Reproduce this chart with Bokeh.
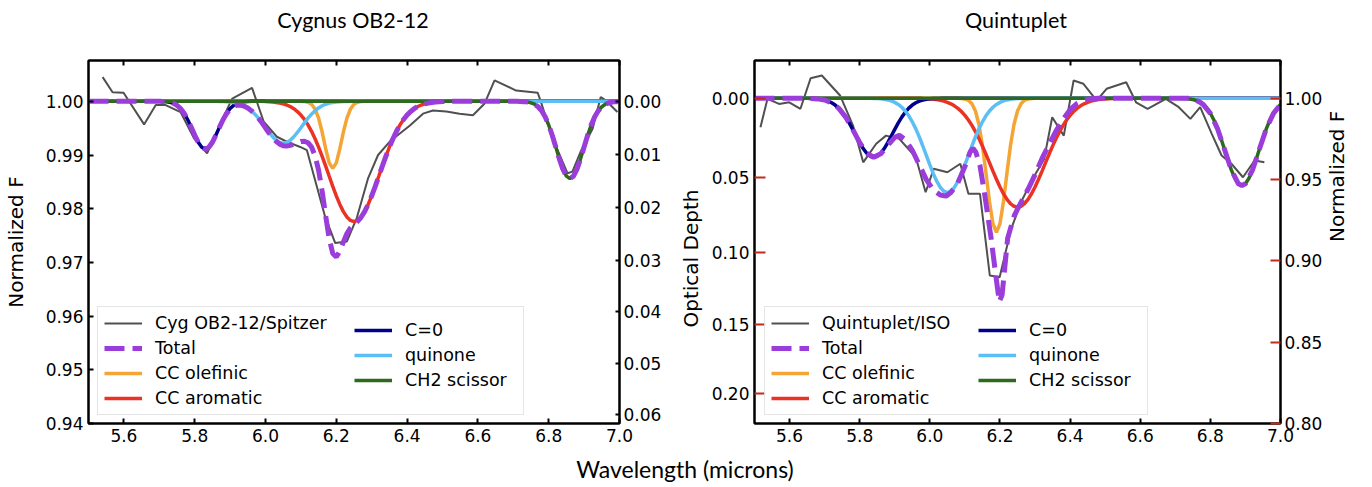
import math
import numpy as np
from bokeh.plotting import figure
from bokeh.models import (Range1d, LinearAxis, FixedTicker, Legend, LegendItem, Div, Title,
                          NumeralTickFormatter, CustomJSTickFormatter)
from bokeh.layouts import row, column
from bokeh.embed import file_html
from bokeh.resources import INLINE

# ---------------- data ----------------
x_ticks = [5.6, 5.8, 6.0, 6.2, 6.4, 6.6, 6.8, 7.0]
cyg_f_ticks = [0.94, 0.95, 0.96, 0.97, 0.98, 0.99, 1.00]
cyg_tau_ticks = [0.00, 0.01, 0.02, 0.03, 0.04, 0.05, 0.06]
qu_f_ticks = [0.80, 0.85, 0.90, 0.95, 1.00]
qu_tau_ticks = [0.00, 0.05, 0.10, 0.15, 0.20]

# model wavelength grid (microns)
model_wl_start = 5.50
model_wl_step = 0.01
model_n = 151

# Cygnus OB2-12 / Spitzer observed spectrum
cyg_obs_wl = [5.540, 5.568, 5.599, 5.657, 5.690, 5.718, 5.760, 5.798, 5.835, 5.892,
              5.906, 5.962, 5.995, 6.032, 6.060, 6.098, 6.117, 6.168, 6.197, 6.230,
              6.258, 6.290, 6.318, 6.351, 6.408, 6.445, 6.473, 6.511, 6.548, 6.586,
              6.619, 6.647, 6.708, 6.769, 6.778, 6.811, 6.853, 6.867, 6.890, 6.924,
              6.947, 6.961, 6.994]
cyg_obs_f = [1.0045, 1.0017, 1.0016, 0.9957, 0.9993, 0.9993, 0.9980, 0.9931, 0.9903, 0.9986,
             1.0005, 1.0025, 0.9962, 0.9934, 0.9925, 0.9915, 0.9909, 0.9786, 0.9736, 0.9739,
             0.9783, 0.9857, 0.9900, 0.9925, 0.9955, 0.9977, 0.9983, 0.9981, 0.9977, 0.9974,
             0.9996, 1.0039, 1.0020, 1.0016, 0.9999, 0.9931, 0.9866, 0.9869, 0.9906, 0.9949,
             1.0008, 1.0002, 0.9980]

# Cygnus components: absorption depth (1 - F) on the model grid, from a start wavelength
cyg_c0_start = 5.71
cyg_c0 = [0.00003, 0.00008, 0.00019, 0.00039, 0.00075, 0.00134, 0.00222, 0.00339, 0.00480,
          0.00629, 0.00763, 0.00856, 0.00890, 0.00856, 0.00763, 0.00629, 0.00480, 0.00339,
          0.00222, 0.00134, 0.00075, 0.00039, 0.00019, 0.00008, 0.00003]
cyg_quinone_start = 5.87
cyg_quinone = [0.00002, 0.00004, 0.00007, 0.00012, 0.00021, 0.00034, 0.00054, 0.00083, 0.00123,
               0.00174, 0.00239, 0.00315, 0.00401, 0.00491, 0.00580, 0.00660, 0.00724, 0.00766,
               0.00780, 0.00766, 0.00724, 0.00660, 0.00580, 0.00491, 0.00401, 0.00315, 0.00239,
               0.00174, 0.00123, 0.00083, 0.00054, 0.00034, 0.00021, 0.00012, 0.00007, 0.00004,
               0.00002]
cyg_olefinic_start = 6.10
cyg_olefinic = [0.00001, 0.00005, 0.00018, 0.00055, 0.00143, 0.00312, 0.00572, 0.00883, 0.01146,
                0.01250, 0.01146, 0.00883, 0.00572, 0.00312, 0.00143, 0.00055, 0.00018, 0.00005,
                0.00001]
cyg_aromatic_start = 6.00
cyg_aromatic = [0.00005, 0.00009, 0.00014, 0.00021, 0.00032, 0.00047, 0.00069, 0.00098, 0.00138,
                0.00190, 0.00256, 0.00338, 0.00439, 0.00559, 0.00697, 0.00854, 0.01025, 0.01208,
                0.01396, 0.01583, 0.01760, 0.01920, 0.02054, 0.02155, 0.02218, 0.02240, 0.02218,
                0.02155, 0.02054, 0.01920, 0.01760, 0.01583, 0.01396, 0.01208, 0.01025, 0.00854,
                0.00697, 0.00559, 0.00439, 0.00338, 0.00256, 0.00190, 0.00138, 0.00098, 0.00069,
                0.00047, 0.00032, 0.00021, 0.00014, 0.00009, 0.00005]
cyg_ch2_start = 6.72
cyg_ch2 = [0.00002, 0.00006, 0.00013, 0.00027, 0.00054, 0.00101, 0.00176, 0.00288, 0.00441,
           0.00633, 0.00851, 0.01071, 0.01263, 0.01393, 0.01440, 0.01393, 0.01263, 0.01071,
           0.00851, 0.00633, 0.00441, 0.00288, 0.00176, 0.00101, 0.00054, 0.00027, 0.00013,
           0.00006, 0.00002]

# Quintuplet / ISO observed spectrum
qu_obs_wl = [5.517, 5.537, 5.570, 5.599, 5.631, 5.660, 5.692, 5.744, 5.781, 5.810,
             5.847, 5.875, 5.913, 5.960, 5.988, 6.011, 6.050, 6.087, 6.110, 6.143,
             6.171, 6.199, 6.232, 6.260, 6.293, 6.326, 6.349, 6.382, 6.410, 6.438,
             6.476, 6.504, 6.560, 6.588, 6.621, 6.673, 6.710, 6.743, 6.771, 6.804,
             6.832, 6.860, 6.893, 6.926, 6.954]
qu_obs_f = [0.9822, 0.9996, 0.9965, 0.9975, 0.9935, 1.0123, 1.0140, 1.0017, 0.9832, 0.9606,
            0.9720, 0.9770, 0.9750, 0.9637, 0.9422, 0.9566, 0.9545, 0.9597, 0.9412, 0.9412,
            0.8910, 0.8899, 0.9197, 0.9360, 0.9504, 0.9627, 0.9883, 0.9770, 1.0109, 1.0089,
            0.9986, 1.0058, 1.0098, 0.9975, 0.9935, 0.9996, 0.9945, 0.9873, 0.9945, 0.9781,
            0.9648, 0.9597, 0.9514, 0.9617, 0.9606]

qu_c0_start = 5.65
qu_c0 = [0.00006, 0.00011, 0.00021, 0.00038, 0.00066, 0.00111, 0.00179, 0.00280, 0.00421,
         0.00612, 0.00858, 0.01162, 0.01517, 0.01913, 0.02326, 0.02731, 0.03093, 0.03381,
         0.03566, 0.03630, 0.03566, 0.03381, 0.03093, 0.02731, 0.02326, 0.01913, 0.01517,
         0.01162, 0.00858, 0.00612, 0.00421, 0.00280, 0.00179, 0.00111, 0.00066, 0.00038,
         0.00021, 0.00011, 0.00006]
qu_quinone_start = 5.84
qu_quinone = [0.00013, 0.00023, 0.00038, 0.00064, 0.00105, 0.00166, 0.00255, 0.00381, 0.00554,
              0.00785, 0.01081, 0.01447, 0.01883, 0.02384, 0.02937, 0.03518, 0.04099, 0.04644,
              0.05119, 0.05486, 0.05720, 0.05800, 0.05720, 0.05486, 0.05119, 0.04644, 0.04099,
              0.03518, 0.02937, 0.02384, 0.01883, 0.01447, 0.01081, 0.00785, 0.00554, 0.00381,
              0.00255, 0.00166, 0.00105, 0.00064, 0.00038, 0.00023, 0.00013]
qu_olefinic_start = 6.09
qu_olefinic = [0.00012, 0.00042, 0.00127, 0.00339, 0.00789, 0.01616, 0.02905, 0.04584, 0.06349,
               0.07720, 0.08240, 0.07720, 0.06349, 0.04584, 0.02905, 0.01616, 0.00789, 0.00339,
               0.00127, 0.00042, 0.00012]
qu_aromatic_start = 5.98
qu_aromatic = [0.00017, 0.00026, 0.00040, 0.00059, 0.00086, 0.00125, 0.00179, 0.00251, 0.00345,
               0.00468, 0.00623, 0.00817, 0.01055, 0.01338, 0.01671, 0.02052, 0.02478, 0.02945,
               0.03443, 0.03960, 0.04479, 0.04983, 0.05455, 0.05875, 0.06222, 0.06484, 0.06645,
               0.06700, 0.06645, 0.06484, 0.06222, 0.05875, 0.05455, 0.04983, 0.04479, 0.03960,
               0.03443, 0.02945, 0.02478, 0.02052, 0.01671, 0.01338, 0.01055, 0.00817, 0.00623,
               0.00468, 0.00345, 0.00251, 0.00179, 0.00125, 0.00086, 0.00059, 0.00040, 0.00026,
               0.00017]
qu_ch2_start = 6.72
qu_ch2 = [0.00010, 0.00021, 0.00041, 0.00076, 0.00137, 0.00236, 0.00389, 0.00613, 0.00926,
          0.01339, 0.01854, 0.02458, 0.03122, 0.03795, 0.04417, 0.04924, 0.05255, 0.05370,
          0.05255, 0.04924, 0.04417, 0.03795, 0.03122, 0.02458, 0.01854, 0.01339, 0.00926,
          0.00613, 0.00389]

# Quintuplet total model (normalized flux)
qu_total_wl = [5.50, 5.60, 5.66, 5.68, 5.70, 5.72, 5.74, 5.76, 5.78, 5.80,
               5.82, 5.84, 5.86, 5.88, 5.90, 5.913, 5.93, 5.95, 5.97, 5.99,
               6.01, 6.03, 6.046, 6.06, 6.08, 6.10, 6.115, 6.123, 6.131, 6.143,
               6.157, 6.175, 6.190, 6.198, 6.206, 6.222, 6.241, 6.26, 6.28, 6.30,
               6.32, 6.34, 6.36, 6.38, 6.40, 6.42, 6.44, 6.46, 6.48, 6.74,
               6.75, 6.76, 6.77, 6.78, 6.80, 6.82, 6.84, 6.86, 6.88, 6.89,
               6.90, 6.92, 6.94, 6.96, 6.98, 7.00]
qu_total_f = [1.0000, 1.0000, 0.9999, 0.9996, 0.9989, 0.9972, 0.9939, 0.9884, 0.9809, 0.9727,
              0.9662, 0.9637, 0.9658, 0.9710, 0.9760, 0.9772, 0.9745, 0.9680, 0.9590, 0.9500,
              0.9435, 0.9405, 0.9398, 0.9420, 0.9480, 0.9580, 0.9670, 0.9693, 0.9670, 0.9586,
              0.9400, 0.9135, 0.8880, 0.8750, 0.8790, 0.9140, 0.9280, 0.9360, 0.9440, 0.9530,
              0.9630, 0.9715, 0.9800, 0.9870, 0.9930, 0.9968, 0.9988, 0.9997, 1.0000, 1.0000,
              0.9992, 0.9986, 0.9976, 0.9961, 0.9907, 0.9815, 0.9688, 0.9558, 0.9474, 0.9463,
              0.9474, 0.9558, 0.9688, 0.9815, 0.9907, 0.9961]

component_names = ["CC olefinic", "CC aromatic", "C=0", "quinone", "CH2 scissor"]

# ---------------- styles ----------------
COLORS = {"CC olefinic": "#f4a534", "CC aromatic": "#eb3325", "C=0": "#00008b",
          "quinone": "#5bbff5", "CH2 scissor": "#2d6a1e"}
DATA_COLOR = "#505050"
TOTAL_COLOR = "#9a3ddb"
RED_TICK = "#c22a1e"
TICK_FONT = "DejaVu Sans"
TICK_SIZE = "17px"
LABEL_SIZE = "20px"

grid = np.round(model_wl_start + model_wl_step * np.arange(model_n), 2)


def profile(start, depths):
    d = np.zeros(model_n)
    i0 = int(round((start - model_wl_start) / model_wl_step))
    d[i0:i0 + len(depths)] = depths[:model_n - i0]
    return d


def style_axis(ax, tick_in=5, tick_color="black"):
    ax.axis_line_color = "black"
    ax.axis_line_width = 2
    ax.major_tick_in = tick_in
    ax.major_tick_out = 0
    ax.major_tick_line_color = tick_color
    ax.major_tick_line_width = 2
    ax.minor_tick_line_color = None
    ax.major_label_text_font = TICK_FONT
    ax.major_label_text_font_size = TICK_SIZE
    ax.major_label_text_color = "black"
    ax.major_label_standoff = 5
    ax.axis_label_text_font = TICK_FONT
    ax.axis_label_text_font_size = LABEL_SIZE
    ax.axis_label_text_font_style = "normal"
    ax.axis_label_text_color = "black"


def make_panel(width, border_left, border_right, border_top, y_lo, y_hi, y_loc):
    p = figure(width=width, height=414, x_range=Range1d(5.5, 7.0), y_range=Range1d(y_lo, y_hi),
               output_backend="svg", toolbar_location=None, y_axis_location=y_loc,
               min_border_left=border_left, min_border_right=border_right,
               min_border_top=border_top, min_border_bottom=27)
    p.grid.visible = False
    p.outline_line_color = "black"
    p.outline_line_width = 2
    p.background_fill_color = "white"
    p.border_fill_color = "white"
    xa = p.xaxis[0]
    xa.ticker = FixedTicker(ticks=x_ticks)
    xa.formatter = NumeralTickFormatter(format="0.0")
    style_axis(xa)
    top = LinearAxis(ticker=FixedTicker(ticks=x_ticks))
    style_axis(top)
    top.major_label_text_color = None
    top.major_label_standoff = 0
    p.add_layout(top, "above")
    return p


def add_lines(p, obs_wl, obs_f, comps, total_wl=None, total_f=None):
    r_obs = p.line(obs_wl, obs_f, line_color=DATA_COLOR, line_width=2)
    rends = {}
    trans = np.ones(model_n)
    for name, (start, depths) in zip(component_names, comps):
        prof = profile(start, depths)
        trans = trans * (1.0 - prof)
        rends[name] = p.line(grid, 1.0 - prof, line_color=COLORS[name], line_width=3.5)
    if total_wl is None:
        total_wl, total_f = grid, trans
    r_tot = p.line(total_wl, total_f, line_color=TOTAL_COLOR, line_width=5, line_dash="20 8")
    return r_obs, r_tot, rends


def add_legends(p, obs_label, r_obs, r_tot, rends, loc1, x2, label_width):
    common = dict(glyph_width=38, glyph_height=20, label_standoff=13, label_height=20,
                  spacing=5, padding=6, margin=0, label_text_font=TICK_FONT,
                  label_text_font_size="17.5px", label_text_color="black")
    items1 = [LegendItem(label=obs_label, renderers=[r_obs]),
              LegendItem(label="Total", renderers=[r_tot]),
              LegendItem(label="CC olefinic", renderers=[rends["CC olefinic"]]),
              LegendItem(label="CC aromatic", renderers=[rends["CC aromatic"]])]
    items2 = [LegendItem(label="C=0", renderers=[rends["C=0"]]),
              LegendItem(label="quinone", renderers=[rends["quinone"]]),
              LegendItem(label="CH2 scissor", renderers=[rends["CH2 scissor"]])]
    leg1 = Legend(items=items1, location=loc1, label_width=label_width,
                  border_line_color="#cccccc", border_line_width=1,
                  background_fill_color="white", background_fill_alpha=0.8, **common)
    leg2 = Legend(items=items2, location=(x2, loc1[1] + 25.4), border_line_color=None,
                  background_fill_color=None, **common)
    p.add_layout(leg1)
    p.add_layout(leg2)


tau_formatter_code = "return Math.abs(Math.log(tick)).toFixed(2);"

# ---------------- left panel: Cygnus OB2-12 ----------------
p1 = make_panel(673, 88, 54, 22, 0.94, 1.0076, "left")
ya = p1.yaxis[0]
ya.ticker = FixedTicker(ticks=cyg_f_ticks)
ya.formatter = NumeralTickFormatter(format="0.00")
style_axis(ya)
ya.axis_label = "Normalized F"
ya.axis_label_standoff = 15
tau1 = LinearAxis(ticker=FixedTicker(ticks=[math.exp(-t) for t in cyg_tau_ticks]),
                  formatter=CustomJSTickFormatter(code=tau_formatter_code))
style_axis(tau1, tick_in=4)
tau1.major_label_standoff = 4
p1.add_layout(tau1, "right")
r_obs, r_tot, rends = add_lines(p1, cyg_obs_wl, cyg_obs_f,
                                [(cyg_olefinic_start, cyg_olefinic), (cyg_aromatic_start, cyg_aromatic),
                                 (cyg_c0_start, cyg_c0), (cyg_quinone_start, cyg_quinone),
                                 (cyg_ch2_start, cyg_ch2)])
add_legends(p1, "Cyg OB2-12/Spitzer", r_obs, r_tot, rends, (9, 8), 266, 362)

# ---------------- right panel: Quintuplet ----------------
p2 = make_panel(691, 77, 81, 24, 0.80, 1.0232, "right")
yb = p2.yaxis[0]
yb.ticker = FixedTicker(ticks=qu_f_ticks)
yb.formatter = NumeralTickFormatter(format="0.00")
style_axis(yb, tick_in=10, tick_color=RED_TICK)
yb.major_label_standoff = 4
yb.axis_label = "Normalized F"
yb.axis_label_standoff = 12
try:
    yb.axis_label_orientation = math.pi / 2
except Exception:
    pass
tau2 = LinearAxis(ticker=FixedTicker(ticks=[math.exp(-t) for t in qu_tau_ticks]),
                  formatter=CustomJSTickFormatter(code=tau_formatter_code))
style_axis(tau2, tick_in=11, tick_color=RED_TICK)
p2.add_layout(tau2, "left")
p2.add_layout(Title(text="Optical Depth", align="left", offset=96, vertical_align="middle",
                    standoff=9, text_font=TICK_FONT, text_font_size=LABEL_SIZE,
                    text_font_style="normal", text_color="black"), "left")
r_obs2, r_tot2, rends2 = add_lines(p2, qu_obs_wl, qu_obs_f,
                                   [(qu_olefinic_start, qu_olefinic), (qu_aromatic_start, qu_aromatic),
                                    (qu_c0_start, qu_c0), (qu_quinone_start, qu_quinone),
                                    (qu_ch2_start, qu_ch2)],
                                   qu_total_wl, qu_total_f)
add_legends(p2, "Quintuplet/ISO", r_obs2, r_tot2, rends2, (10, 8), 224, 319)

span = ('position:absolute;top:{top}px;left:{left}px;transform:translateX(-50%);'
        'white-space:nowrap;line-height:30px;')
titles = Div(text=('<div style="position:relative;width:1364px;height:36px;font-family:Lato;'
                   'font-size:21.5px;color:black">'
                   f'<span style="{span.format(top=5, left=353)}">Cygnus OB2-12</span>'
                   f'<span style="{span.format(top=5, left=1016)}">Quintuplet</span></div>'),
             width=1364, height=36, margin=0)
xlabel = Div(text=('<div style="position:relative;width:1364px;height:34px;font-family:Lato;'
                   'font-size:23px;color:black">'
                   f'<span style="{span.format(top=4, left=685)}">Wavelength (microns)</span></div>'),
             width=1364, height=34, margin=0)

layout = column(titles, row(p1, p2), xlabel)
open("out.html", "w").write(file_html(layout, INLINE))
